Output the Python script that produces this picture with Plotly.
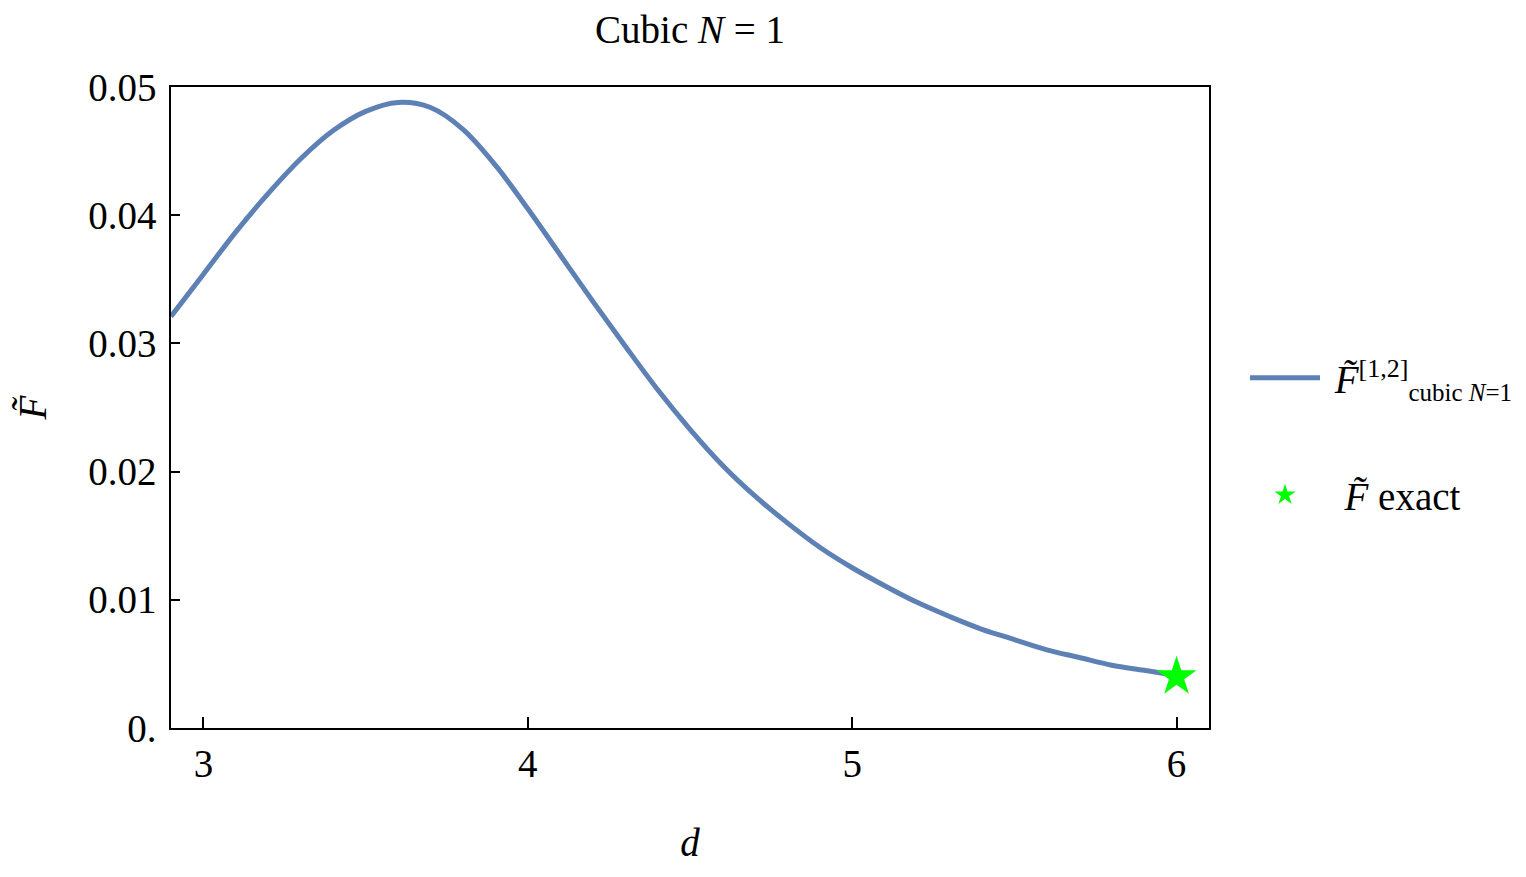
import plotly.graph_objects as go

d_vals = [2.9, 3.0, 3.1, 3.2, 3.3, 3.4, 3.5, 3.6, 3.7, 3.8, 3.9, 4.0, 4.1, 4.2, 4.3,
          4.4, 4.5, 4.6, 4.7, 4.8, 4.9, 5.0, 5.1, 5.2, 5.3, 5.4, 5.5, 5.6, 5.7, 5.8, 5.9, 6.0]
F_cubic = [0.0321, 0.0354, 0.0387, 0.0417, 0.0444, 0.0466, 0.0481, 0.0488, 0.0484, 0.0467,
           0.0439, 0.0405, 0.0369, 0.0333, 0.0298, 0.0264, 0.0233, 0.0205, 0.0181, 0.0160,
           0.0141, 0.0125, 0.0111, 0.0098, 0.0087, 0.0077, 0.0069, 0.0061, 0.0055, 0.0049,
           0.0045, 0.0041]
d_exact = [6.0]
F_exact = [0.0040]

x_ticks = [3, 4, 5, 6]
x_tick_text = ["3", "4", "5", "6"]
y_ticks = [0.0, 0.01, 0.02, 0.03, 0.04, 0.05]
y_tick_text = ["0.", "0.01", "0.02", "0.03", "0.04", "0.05"]

FONT = "Liberation Serif"
FS = 39

fig = go.Figure()
fig.add_trace(go.Scatter(
    x=d_vals, y=F_cubic, mode="lines",
    line=dict(color="#5e81b5", width=5, shape="spline", smoothing=1.0),
    name="\u00a0<i>F̃</i><sup><span style='font-size:26px'>[1,2]</span></sup>"
         "<sub><span style='font-size:25px'>cubic <i>N</i>=1</span></sub>",
    legend="legend",
))
fig.add_trace(go.Scatter(
    x=d_exact, y=F_exact, mode="markers",
    marker=dict(symbol="star", size=30, color="#00ff00", line=dict(width=0)),
    name="\u00a0\u00a0<i>F̃</i> exact",
    legend="legend2",
))

axis_common = dict(
    showline=True, linecolor="black", linewidth=1.5, mirror=True,
    ticks="inside", tickcolor="black", tickwidth=1.5,
    showgrid=False, zeroline=False,
    tickfont=dict(family=FONT, size=FS, color="black"),
)

legend_common = dict(
    xref="container", yref="container", xanchor="left", yanchor="middle", itemwidth=70,
    font=dict(family=FONT, size=FS, color="black"), bgcolor="rgba(0,0,0,0)",
)

fig.update_layout(
    width=1518, height=869,
    margin=dict(l=163, r=317, t=79, b=149, autoexpand=False),
    paper_bgcolor="white", plot_bgcolor="white",
    font=dict(family=FONT, size=FS, color="black"),
    title=dict(text="Cubic <i>N</i> = 1", x=0.5, xref="paper", xanchor="center",
               y=0.975, yref="container", yanchor="middle",
               font=dict(family=FONT, size=FS, color="black")),
    xaxis=dict(range=[2.9, 6.1], tickvals=x_ticks, ticktext=x_tick_text, ticklen=11,
               title=dict(text="<i>d</i>", standoff=45, font=dict(family=FONT, size=FS)),
               **axis_common),
    yaxis=dict(range=[0, 0.05], tickvals=y_ticks, ticktext=y_tick_text, ticklen=9,
               ticklabelstandoff=5,
               title=dict(text="<i>F̃</i>", standoff=30, font=dict(family=FONT, size=FS)),
               **axis_common),
    legend=dict(x=0.8149, y=0.5742, **legend_common),
    legend2=dict(x=0.8149, y=0.4396, **legend_common),
    showlegend=True,
)

fig.write_html("out.html")
